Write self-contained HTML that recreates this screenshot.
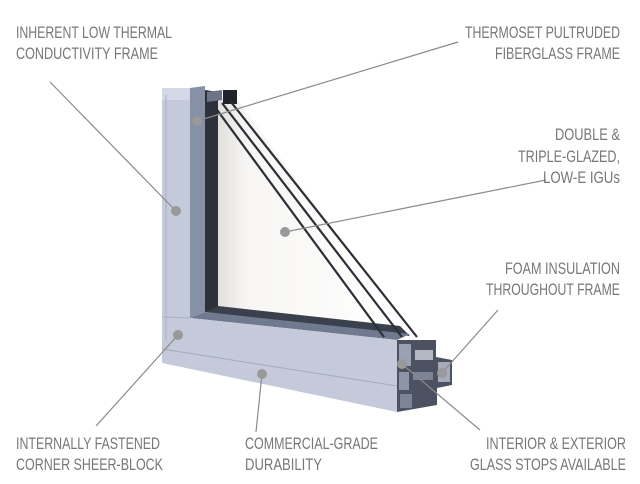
<!DOCTYPE html>
<html><head><meta charset="utf-8"><style>
html,body{margin:0;padding:0;background:#fff;}
svg{display:block;}
text{font-family:"Liberation Sans Narrow","Liberation Sans",sans-serif;font-size:17px;fill:#777;}
</style></head><body>
<svg width="640" height="484" viewBox="0 0 640 484" xmlns="http://www.w3.org/2000/svg">
<defs>
<linearGradient id="gl" x1="0" y1="0" x2="1" y2="0">
<stop offset="0" stop-color="#e2e0dc"/><stop offset="0.15" stop-color="#f7f6f4"/><stop offset="1" stop-color="#ffffff"/>
</linearGradient>
</defs>
<polygon points="218,98 236,98 410,332 218,312" fill="url(#gl)"/>
<polygon points="190,88 205,86 205,312 190,318" fill="#8690a6"/>
<polygon points="205,90 218,92 218,312 205,312" fill="#2c313c"/>
<polygon points="205,312 218,306 400,326 410,336" fill="#3a404c"/>
<polygon points="190,318 205,312 410,334 397,340" fill="#6f7990"/>
<polygon points="162,88 190,88 190,318 397,340 397,412 162,363" fill="#c5cadb"/>
<polygon points="162,88 190,88 190,100 162,100" fill="#d4d8e6"/>
<line x1="166" y1="95" x2="166" y2="340" stroke="#aab0c2" stroke-width="1"/>
<line x1="162" y1="317" x2="190" y2="318" stroke="#aab0c2" stroke-width="1"/>
<line x1="162" y1="349" x2="397" y2="386" stroke="#a3a9bc" stroke-width="1"/>
<polygon points="207,92 222,90 222,100 207,102" fill="#6b7386"/>
<polygon points="223,90 237,90 237,104 223,104" fill="#1f232b"/>
<line x1="212" y1="103" x2="384" y2="337" stroke="#2a2f38" stroke-width="2.2"/>
<line x1="222" y1="103" x2="402" y2="337" stroke="#2a2f38" stroke-width="2.2"/>
<line x1="231" y1="102" x2="417" y2="337" stroke="#2a2f38" stroke-width="2.2"/>
<polygon points="397,340 436,340 436,357 452,360 452,385 437,388 437,405 397,412" fill="#4c5262"/>
<rect x="399" y="344" width="12" height="22" fill="#9aa1b3"/>
<rect x="415" y="350" width="18" height="10" fill="#b3b8c5"/>
<rect x="438" y="362" width="12" height="20" fill="#a5abbb"/>
<rect x="399" y="372" width="10" height="18" fill="#8e95a8"/>
<rect x="413" y="372" width="20" height="8" fill="#7d8497"/>
<rect x="400" y="394" width="12" height="14" fill="#7d8497"/>
<g stroke="#8a8a8a" stroke-width="1.2" fill="none">
<line x1="197" y1="121" x2="458" y2="42"/>
<line x1="176" y1="211" x2="50" y2="82"/>
<line x1="285" y1="232" x2="546" y2="180"/>
<line x1="442" y1="373" x2="498" y2="310"/>
<line x1="178" y1="335" x2="96" y2="426"/>
<line x1="262" y1="374" x2="256" y2="432"/>
<line x1="402" y1="364" x2="480" y2="430"/>
</g>
<g fill="#999">
<circle cx="197" cy="121" r="5"/><circle cx="176" cy="211" r="5"/><circle cx="285" cy="232" r="5"/>
<circle cx="178" cy="335" r="5"/><circle cx="262" cy="374" r="5"/><circle cx="402" cy="364" r="5"/><circle cx="442" cy="373" r="5"/>
</g>
<text x="16" y="38" textLength="156" lengthAdjust="spacingAndGlyphs">INHERENT LOW THERMAL</text>
<text x="16" y="59" textLength="142" lengthAdjust="spacingAndGlyphs">CONDUCTIVITY FRAME</text>
<text x="465" y="38" textLength="155" lengthAdjust="spacingAndGlyphs">THERMOSET PULTRUDED</text>
<text x="495" y="59" textLength="125" lengthAdjust="spacingAndGlyphs">FIBERGLASS FRAME</text>
<text x="555" y="140" textLength="65" lengthAdjust="spacingAndGlyphs">DOUBLE &amp;</text>
<text x="518" y="162" textLength="102" lengthAdjust="spacingAndGlyphs">TRIPLE-GLAZED,</text>
<text x="543" y="183" textLength="77" lengthAdjust="spacingAndGlyphs">LOW-E IGUs</text>
<text x="505" y="274" textLength="115" lengthAdjust="spacingAndGlyphs">FOAM INSULATION</text>
<text x="486" y="295" textLength="134" lengthAdjust="spacingAndGlyphs">THROUGHOUT FRAME</text>
<text x="16" y="449" textLength="144" lengthAdjust="spacingAndGlyphs">INTERNALLY FASTENED</text>
<text x="16" y="470" textLength="147" lengthAdjust="spacingAndGlyphs">CORNER SHEER-BLOCK</text>
<text x="245" y="449" textLength="133" lengthAdjust="spacingAndGlyphs">COMMERCIAL-GRADE</text>
<text x="245" y="470" textLength="77" lengthAdjust="spacingAndGlyphs">DURABILITY</text>
<text x="486" y="449" textLength="140" lengthAdjust="spacingAndGlyphs">INTERIOR &amp; EXTERIOR</text>
<text x="470" y="470" textLength="156" lengthAdjust="spacingAndGlyphs">GLASS STOPS AVAILABLE</text>
</svg>
</body></html>
